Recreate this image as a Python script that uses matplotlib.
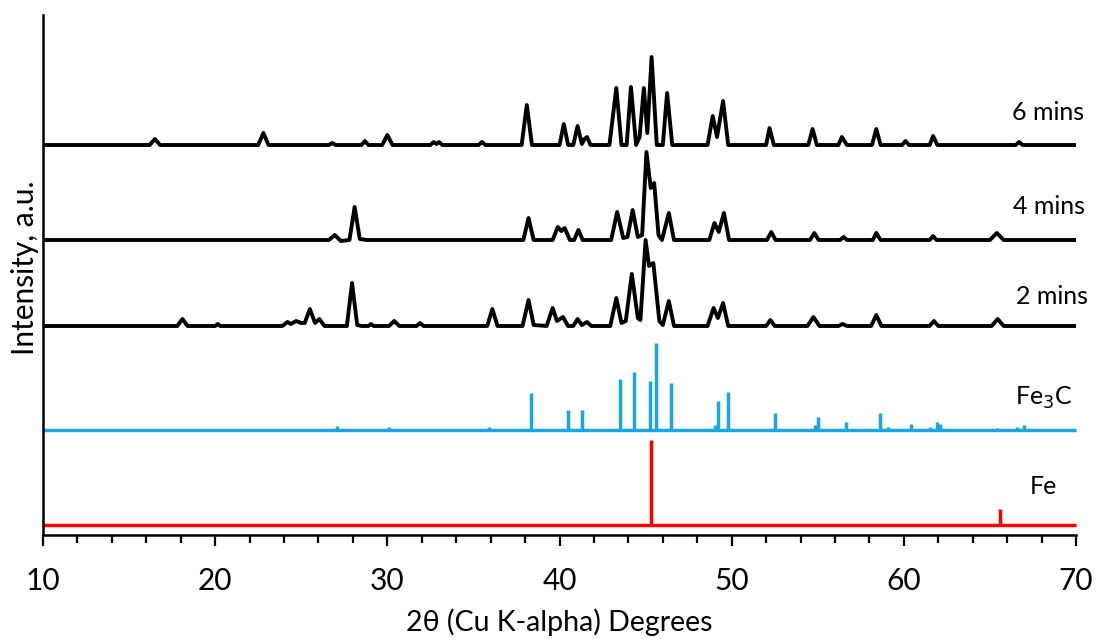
import matplotlib
matplotlib.use("Agg")
import matplotlib.pyplot as plt
from matplotlib.ticker import MultipleLocator

plt.rcParams['font.family'] = ['Lato', 'DejaVu Sans']

# ---------------- data (intensity above each trace's baseline, a.u.) ----------------
x_6min = [10.0, 16.2, 16.5, 16.8, 22.5, 22.8, 23.1, 26.6, 26.8, 27.0, 28.5, 28.7, 28.9,
          29.7, 30.0, 30.3, 32.5, 32.7, 32.85, 33.0, 33.2, 35.3, 35.5, 35.7,
          37.8, 38.1, 38.4, 40.0, 40.25, 40.5, 40.8, 41.05, 41.3, 41.45, 41.6, 41.8,
          42.9, 43.3, 43.6, 43.9, 44.15, 44.45, 44.65, 44.9, 45.1, 45.35, 45.65,
          46.0, 46.25, 46.55, 48.6, 48.9, 49.15, 49.5, 49.8, 52.0, 52.2, 52.45,
          54.45, 54.7, 54.95, 56.2, 56.4, 56.7, 58.15, 58.4, 58.65, 59.9, 60.1, 60.3,
          61.5, 61.7, 61.95, 66.5, 66.7, 66.9, 70.0]
y_6min = [0, 0, 6, 0, 0, 12, 0, 0, 2, 0, 0, 4, 0,
          0, 10, 0, 0, 3, 1, 3, 0, 0, 3, 0,
          0, 40, 0, 0, 21, 0, 0, 19, 1, 6, 8, 0,
          0, 57, 0, 0, 58, 0, 8, 57, 12, 88, 0,
          0, 52, 0, 0, 29, 8, 44, 0, 0, 17, 0,
          0, 16, 0, 0, 8, 0, 0, 16, 0, 0, 4, 0,
          0, 9, 0, 0, 3, 0, 0]

x_4min = [10.0, 26.6, 26.95, 27.3, 27.8, 28.1, 28.4, 28.8, 37.9, 38.2, 38.5,
          39.6, 39.9, 40.1, 40.3, 40.6, 40.85, 41.1, 41.35,
          43.0, 43.35, 43.7, 43.95, 44.25, 44.55, 44.8, 45.05, 45.3, 45.5, 45.75,
          45.95, 46.35, 46.65, 48.7, 49.0, 49.25, 49.55, 49.85,
          52.05, 52.3, 52.55, 54.55, 54.8, 55.05, 56.3, 56.5, 56.7,
          58.2, 58.4, 58.65, 61.5, 61.7, 61.9, 65.0, 65.4, 65.8, 70.0]
y_4min = [0, 0, 5, -1, 0, 33, 1, 0, 0, 22, 0,
          0, 13, 9, 12, 0, 0, 10, 0,
          0, 28, 2, 3, 30, 3, 5, 88, 52, 57, 5,
          0, 27, 0, 0, 17, 8, 27, 0,
          0, 8, 0, 0, 7, 0, 0, 3, 0,
          0, 7, 0, 0, 4, 0, 0, 7, 0, 0]

x_2min = [10.0, 17.8, 18.1, 18.4, 20.0, 20.15, 20.3,
          23.9, 24.2, 24.4, 24.7, 25.0, 25.2, 25.5, 25.8, 26.05, 26.35,
          27.65, 27.95, 28.25, 28.5, 28.9, 29.05, 29.2, 30.1, 30.4, 30.7,
          31.7, 31.9, 32.1, 35.8, 36.1, 36.4,
          37.85, 38.2, 38.5, 39.25, 39.6, 39.85, 40.2, 40.5, 40.8, 41.05, 41.3, 41.6, 41.85,
          42.95, 43.3, 43.6, 43.85, 44.2, 44.55, 44.7, 45.0, 45.2, 45.45, 45.8,
          46.0, 46.35, 46.65, 48.6, 48.95, 49.2, 49.5, 49.8,
          52.0, 52.25, 52.5, 54.4, 54.75, 55.1, 56.2, 56.45, 56.7,
          58.1, 58.4, 58.7, 61.5, 61.75, 62.0, 65.1, 65.45, 65.8, 70.0]
y_2min = [0, 0, 7, 0, 0, 2, 0,
          0, 4, 2, 5, 3, 3, 17, 3, 7, 0,
          0, 43, 1, 0, 0, 2, 0, 0, 5, 0,
          0, 3, 0, 0, 17, 0,
          0, 26, 1, 0, 18, 5, 9, 0, 0, 7, 1, 4, 0,
          0, 28, 3, 5, 52, 8, 6, 86, 60, 63, 5,
          1, 25, 0, 0, 18, 8, 23, 0,
          0, 6, 0, 0, 9, 0, 0, 2, 0,
          0, 11, 0, 0, 5, 0, 0, 7, 0, 0]

fe3c_pos = [27.1, 30.1, 35.9, 38.35, 40.5, 41.3, 43.5, 44.35, 45.25, 45.6, 46.5,
            49.05, 49.2, 49.8, 52.5, 54.85, 55.0, 56.65, 58.6, 59.1, 60.4, 61.5,
            61.9, 62.1, 65.4, 66.6, 67.0]
fe3c_int = [4, 3, 3, 37, 20, 20, 51, 58, 49, 87, 47,
            5, 29, 38, 17, 5, 13, 8, 17, 3, 6, 3,
            8, 6, 2, 3, 5]

fe_pos = [45.3, 65.6]
fe_int = [85, 16]

series_labels = ["6 mins", "4 mins", "2 mins", "Fe$_3$C", "Fe"]
x_range = [10, 70]

# ---------------- layout ----------------
W, H = 1097, 639
fig = plt.figure(figsize=(W / 100, H / 100), dpi=100)
ax = fig.add_axes([43 / W, 1 - 535 / H, (1076 - 43) / W, (535 - 15) / H])

offsets = [390, 295, 209, 105, 10]
black_lw = 2.8

for xs, ys, off in [(x_6min, y_6min, offsets[0]), (x_4min, y_4min, offsets[1]),
                    (x_2min, y_2min, offsets[2])]:
    ax.plot(xs, [v + off for v in ys], color='black', lw=black_lw,
            solid_joinstyle='round', solid_capstyle='round')

blue = '#1AA7E1'
red = '#FF0000'
ax.hlines(offsets[3], x_range[0], x_range[1], color=blue, lw=2.5, clip_on=False)
ax.vlines(fe3c_pos, offsets[3], [offsets[3] + v for v in fe3c_int], color=blue, lw=2.5)
ax.hlines(offsets[4], x_range[0], x_range[1], color=red, lw=2.5, clip_on=False)
ax.vlines(fe_pos, offsets[4], [offsets[4] + v for v in fe_int], color=red, lw=2.5)

label_xy = [(70.5, 423), (70.5, 329), (70.7, 239), (69.8, 137), (68.9, 48)]
for (lx, ly), lab in zip(label_xy, series_labels):
    ax.text(lx, ly, lab, ha='right', va='center', fontsize=18, clip_on=False)

ax.set_xlim(x_range)
ax.set_ylim(0, 520)
ax.xaxis.set_major_locator(MultipleLocator(10))
ax.xaxis.set_minor_locator(MultipleLocator(2))
ax.tick_params(axis='x', which='major', length=8, width=1.6, labelsize=21.5, pad=15,
               direction='out')
ax.tick_params(axis='x', which='minor', length=5.5, width=1.6, direction='out')
ax.set_yticks([])
for s in ['top', 'right']:
    ax.spines[s].set_visible(False)
ax.spines['left'].set_linewidth(1.8)
ax.spines['bottom'].set_linewidth(1.8)

ax.set_xlabel("2θ (Cu K-alpha) Degrees", fontsize=20.5, labelpad=10)
fig.text(25 / W, 1 - 268 / H, "Intensity, a.u.", rotation=90, ha='center',
         va='center', fontsize=21.5)

fig.savefig("out.png", dpi=100)
